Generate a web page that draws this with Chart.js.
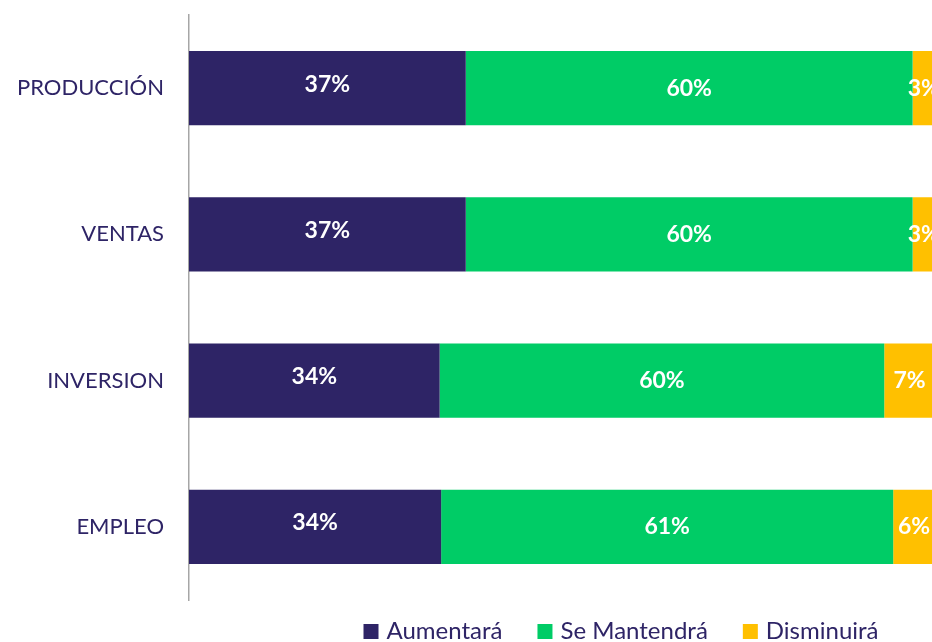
<!DOCTYPE html>
<html>
<head>
<meta charset="utf-8">
<script src="https://cdn.jsdelivr.net/npm/chart.js@4/dist/chart.umd.min.js"></script>
<style>
html,body{margin:0;padding:0;background:#fff;}
#wrap{width:932px;height:642px;}
</style>
</head>
<body>
<div id="wrap"><canvas id="c" width="932" height="642"></canvas></div>
<script>
const categories = ["PRODUCCIÓN", "VENTAS", "INVERSION", "EMPLEO"];
const seriesNames = ["Aumentará", "Se Mantendrá", "Disminuirá"];
const aumentara = [37.1, 37.1, 33.6, 33.8];
const seMantendra = [59.9, 59.9, 59.6, 60.6];
const disminuira = [3.0, 3.0, 6.8, 5.6];
const colors = ["#2E2466", "#00CC66", "#FFC000"];
const textColor = "#2E2466";
const FONT = "Lato, 'Open Sans', sans-serif";

const valueLabels = {
  id: 'valueLabels',
  afterDatasetsDraw(chart) {
    const ctx = chart.ctx;
    ctx.save();
    ctx.fillStyle = '#fff';
    ctx.font = 'bold 23px ' + FONT;
    ctx.textAlign = 'center';
    ctx.textBaseline = 'middle';
    chart.data.datasets.forEach((ds, di) => {
      const meta = chart.getDatasetMeta(di);
      meta.data.forEach((bar, i) => {
        const p = bar.getProps(['x', 'y', 'base'], true);
        const cx = (p.x + p.base) / 2;
        const dy = di === 0 ? -4 : 0;
        ctx.fillText(Math.round(ds.data[i]) + '%', cx, p.y + dy);
      });
    });
    ctx.restore();
  }
};

const customLegend = {
  id: 'customLegend',
  afterDraw(chart) {
    const ctx = chart.ctx;
    ctx.save();
    ctx.font = '24px ' + FONT;
    ctx.textBaseline = 'alphabetic';
    const box = 15, gapText = 8, gapItem = 35;
    let total = 0;
    const widths = chart.data.datasets.map(ds => ctx.measureText(ds.label).width);
    widths.forEach((w, i) => { total += box + gapText + w + (i < widths.length - 1 ? gapItem : 0); });
    let x = 621 - total / 2;
    const yBox = 624;
    chart.data.datasets.forEach((ds, i) => {
      ctx.fillStyle = ds.backgroundColor;
      ctx.fillRect(x, yBox, box, box);
      x += box + gapText;
      ctx.fillStyle = textColor;
      ctx.fillText(ds.label, x, yBox + box);
      x += widths[i] + gapItem;
    });
    ctx.restore();
  }
};

new Chart(document.getElementById('c'), {
  type: 'bar',
  data: {
    labels: categories,
    datasets: [
      { label: seriesNames[0], data: aumentara, backgroundColor: colors[0] },
      { label: seriesNames[1], data: seMantendra, backgroundColor: colors[1] },
      { label: seriesNames[2], data: disminuira, backgroundColor: colors[2] }
    ]
  },
  options: {
    indexAxis: 'y',
    responsive: false,
    animation: false,
    events: [],
    layout: { padding: { top: 15, right: 0, bottom: 42, left: 0 } },
    datasets: { bar: { categoryPercentage: 1, barPercentage: 0.507, borderWidth: 0 } },
    scales: {
      x: { stacked: true, display: false, min: 0, max: 99.6 },
      y: {
        stacked: true,
        afterFit(scale) { scale.width = 189; scale.paddingTop = 0; scale.paddingBottom = 0; },
        grid: { display: false, drawTicks: false },
        border: { display: true, color: '#A6A6A6', width: 1.5 },
        ticks: { color: textColor, font: { family: FONT, size: 22 }, padding: 25 }
      }
    },
    plugins: { legend: { display: false }, tooltip: { enabled: false } }
  },
  plugins: [valueLabels, customLegend]
});
</script>
</body>
</html>
